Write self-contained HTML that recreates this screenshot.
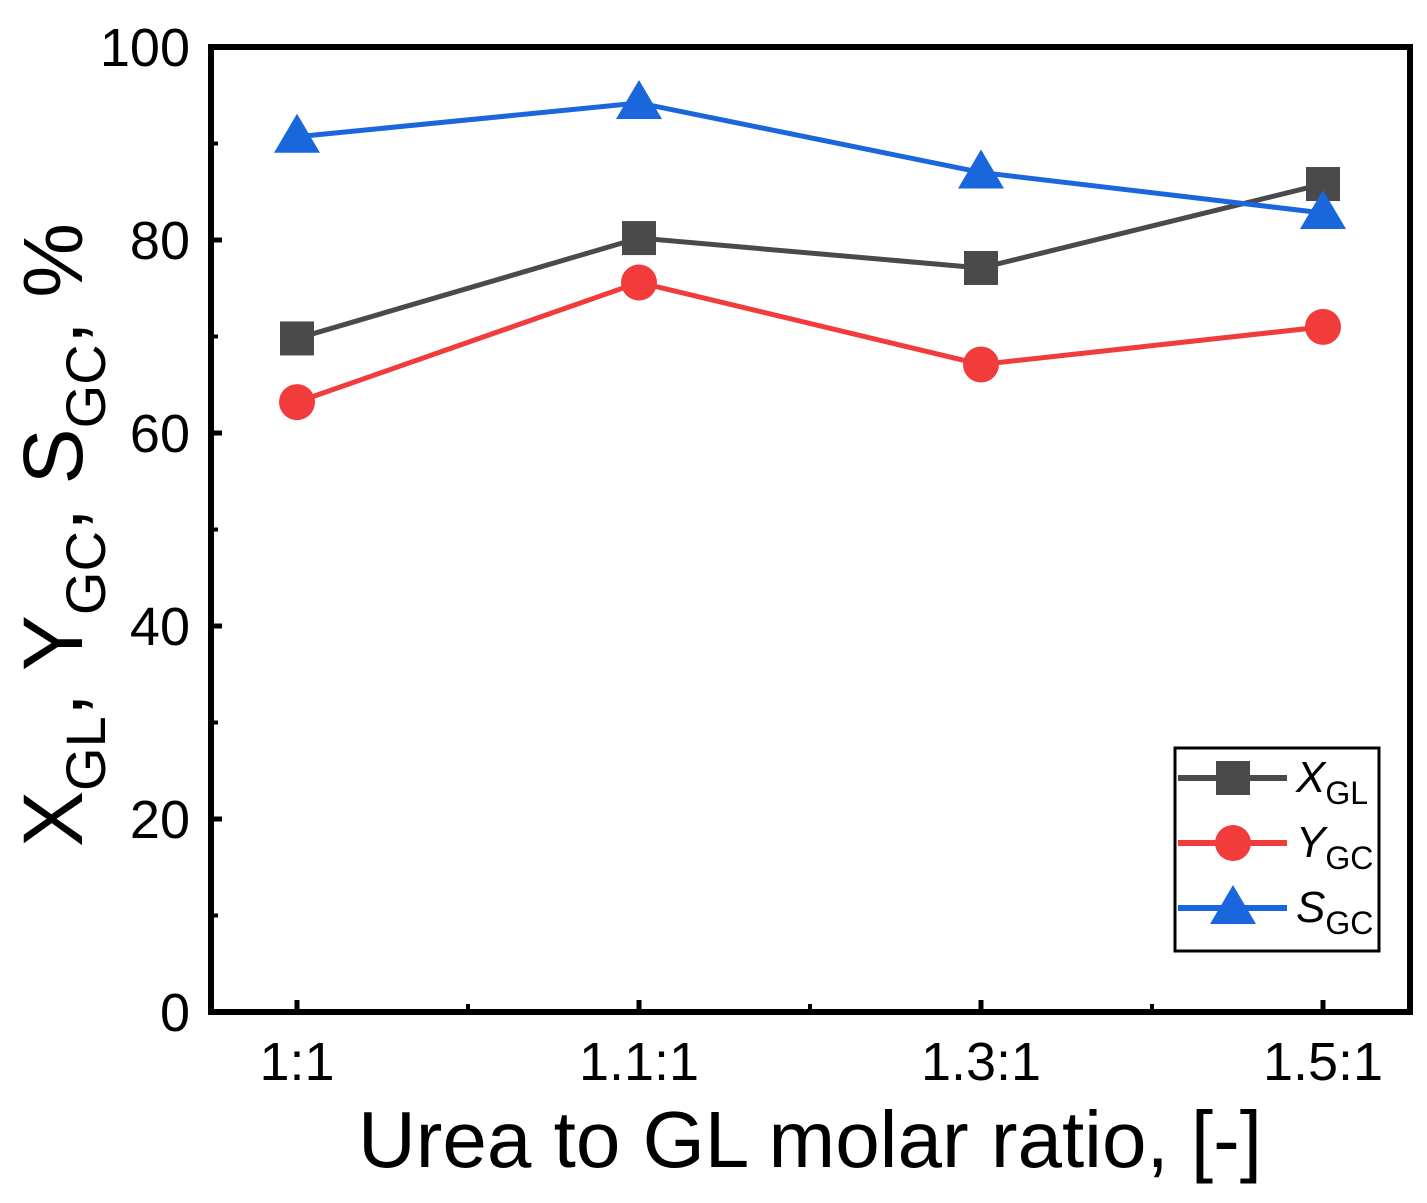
<!DOCTYPE html>
<html><head><meta charset="utf-8"><style>
body{margin:0;background:#fff}
svg{display:block;font-family:"Liberation Sans",sans-serif}
</style></head><body>
<svg id="chart" width="1427" height="1203" viewBox="0 0 1427 1203" xmlns="http://www.w3.org/2000/svg">
<g id="grid"></g>
<g id="series"></g>
<rect x="211" y="47" width="1199" height="965" fill="none" stroke="#000" stroke-width="6"/>
<g transform="translate(82,535) rotate(-90)">
<text text-anchor="middle" font-size="84" fill="#000">X<tspan font-size="56" dy="23">GL</tspan><tspan dy="-23">, Y</tspan><tspan font-size="56" dy="23">GC</tspan><tspan dy="-23">, S</tspan><tspan font-size="56" dy="23">GC</tspan><tspan dy="-23">, %</tspan></text>
</g>
<text x="810" y="1167" text-anchor="middle" font-size="80" fill="#000">Urea to GL molar ratio, [-]</text>
<g>
<rect x="1175" y="748" width="204" height="203" fill="#fff" stroke="#000" stroke-width="3"/>
<g id="legend-items"></g>
</g>
</svg>
<script>
const categories = ["1:1","1.1:1","1.3:1","1.5:1"];
const xgl = [69.8, 80.2, 77.1, 85.8];
const ygc = [63.2, 75.6, 67.1, 71.0];
const sgc = [90.7, 94.2, 87.0, 82.8];
const yTicks = [0,20,40,60,80,100];
const yMinor = [10,30,50,70,90];

const NS="http://www.w3.org/2000/svg";
const X0=297, XSTEP=342;
function xs(i){return X0+i*XSTEP;}
function ys(v){return 1012-v*9.65;}
function mk(tag,attrs,parent){const e=document.createElementNS(NS,tag);for(const k in attrs)e.setAttribute(k,attrs[k]);parent.appendChild(e);return e;}
const grid=document.getElementById('grid'), ser=document.getElementById('series');
yTicks.forEach(v=>{
  const t=mk('line',{x1:211,x2:222,y1:ys(v),y2:ys(v),stroke:'#000','stroke-width':5},grid);
  
  
  const l=mk('text',{x:190,y:ys(v)+19,'text-anchor':'end','font-size':54,fill:'#000'},grid);
  l.textContent=v;
  
  
});
yMinor.forEach(v=>{
  const t=mk('line',{x1:211,x2:218,y1:ys(v),y2:ys(v),stroke:'#000','stroke-width':4},grid);
  
  
});
categories.forEach((c,i)=>{
  const t=mk('line',{x1:xs(i),x2:xs(i),y1:1012,y2:1000,stroke:'#000','stroke-width':5},grid);
  
  
  if(i<categories.length-1){
    const m=mk('line',{x1:xs(i+0.5),x2:xs(i+0.5),y1:1012,y2:1004,stroke:'#000','stroke-width':4},grid);
    
    
  }
  const l=mk('text',{x:xs(i),y:1080,'text-anchor':'middle','font-size':54,fill:'#000'},grid);
  l.textContent=c;
  
  
});
function marker(type,x,y,color,parent){
  let e;
  if(type==='square') e=mk('rect',{x:x-17,y:y-17,width:34,height:34,fill:color},parent);
  else if(type==='circle') e=mk('circle',{cx:x,cy:y,r:18,fill:color},parent);
  else e=mk('polygon',{points:`${x},${y-23} ${x+23},${y+16} ${x-23},${y+16}`,fill:color},parent);
  return e;
}
const S=[{name:'xgl',vals:xgl,color:'#4a4a4a',m:'square'},{name:'ygc',vals:ygc,color:'#f23c3c',m:'circle'},{name:'sgc',vals:sgc,color:'#1a66dd',m:'triangle'}];
S.forEach(s=>{
  const p=mk('polyline',{points:s.vals.map((v,i)=>xs(i)+','+ys(v)).join(' '),fill:'none',stroke:s.color,'stroke-width':5},ser);
  
  
  s.vals.forEach((v,i)=>{
    const e=marker(s.m,xs(i),ys(v),s.color,ser);
    
    
  });
});
const li=document.getElementById('legend-items');
const labels=[['X','GL'],['Y','GC'],['S','GC']];
S.forEach((s,k)=>{
  const y=778+k*65;
  const ln=mk('line',{x1:1178,x2:1287,y1:y,y2:y,stroke:s.color,'stroke-width':6},li);
  
  
  const e=marker(s.m,1233,y,s.color,li);
  
  
  const t=mk('text',{x:1296,y:y+14,'font-size':44,fill:'#000'},li);
  t.innerHTML=`<tspan font-style="italic">${labels[k][0]}</tspan><tspan font-size="32" dy="12">${labels[k][1]}</tspan>`;
  
  
});
</script>
</body></html>
